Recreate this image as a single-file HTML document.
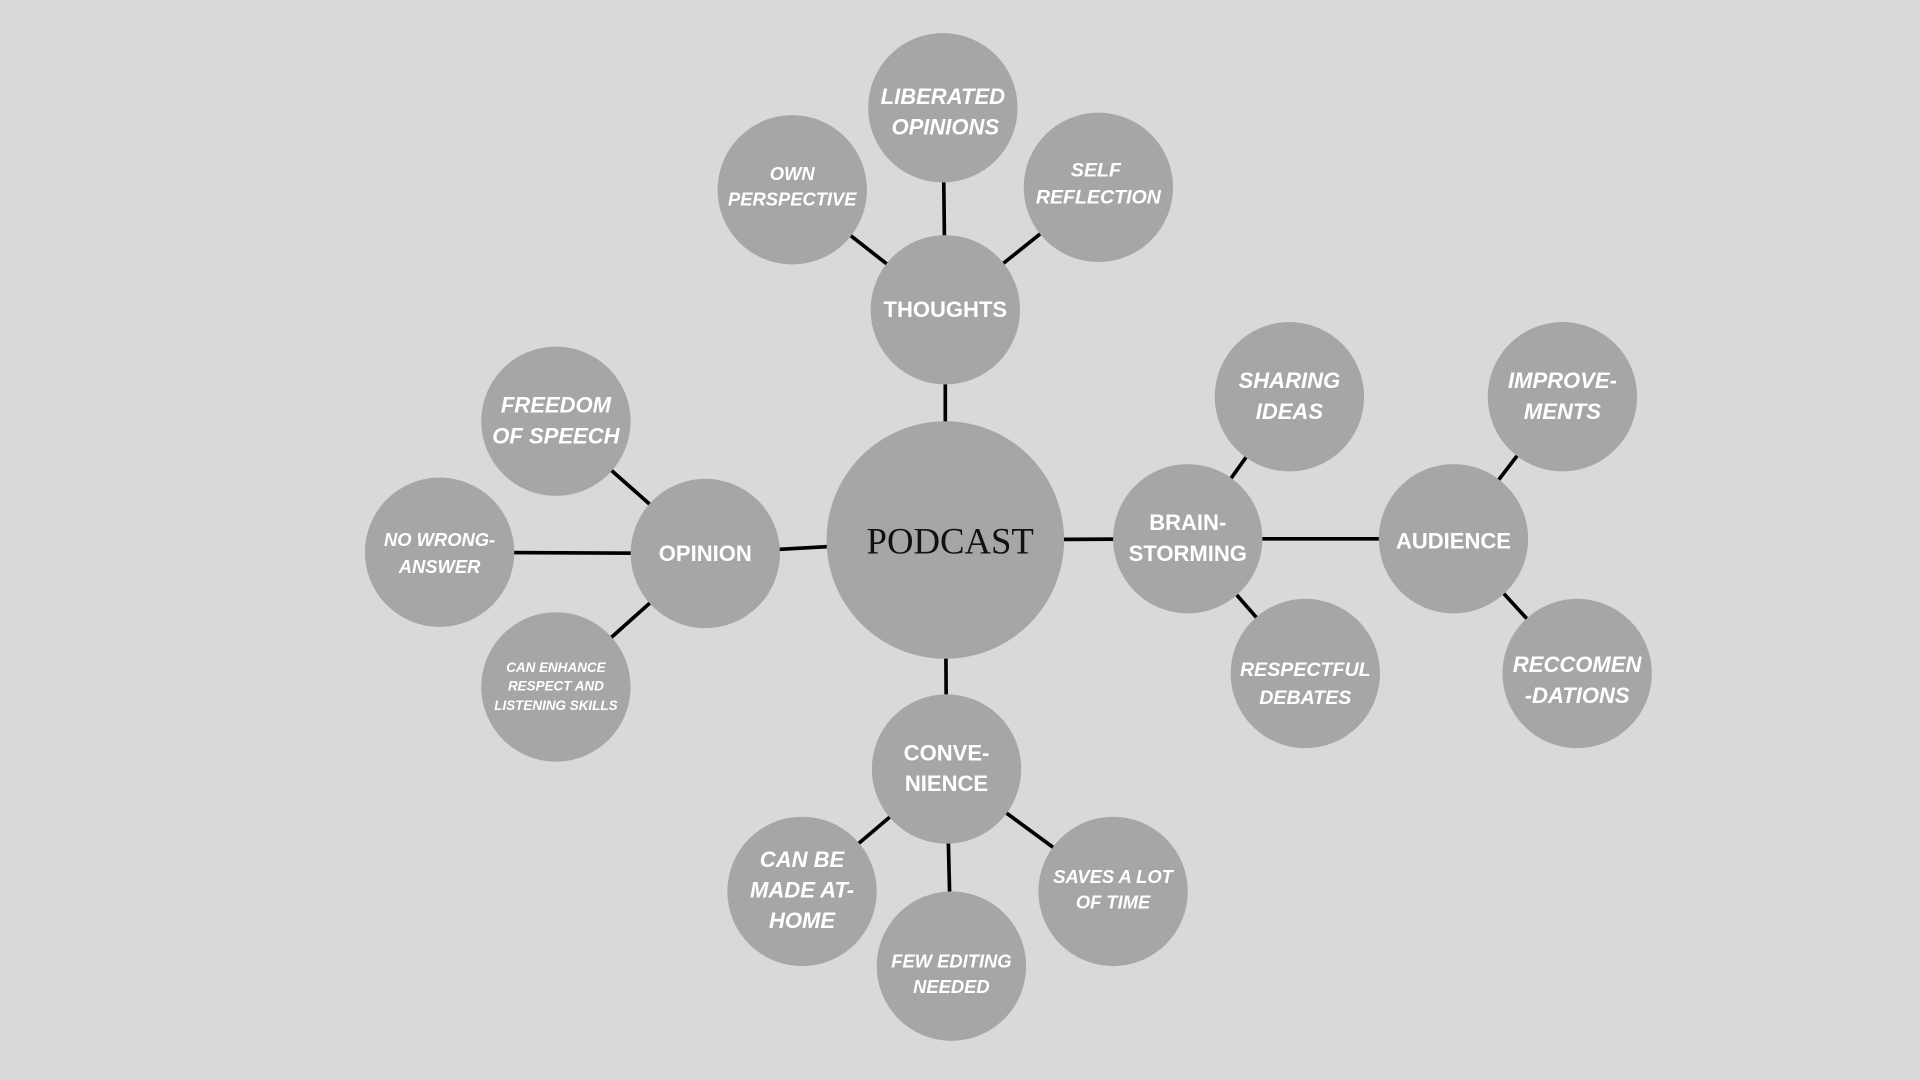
<!DOCTYPE html>
<html><head><meta charset="utf-8"><style>
html,body{margin:0;padding:0;background:#d9d9d9;}
svg{display:block;}
text{font-family:"Liberation Sans",sans-serif;font-weight:bold;fill:#fff;text-anchor:middle;}
.i{font-style:italic;}
</style></head><body>
<svg width="1920" height="1080" viewBox="0 0 1568 882" xmlns="http://www.w3.org/2000/svg">
<rect width="1568" height="882" fill="#d9d9d9"/>
<g stroke="#000" stroke-width="3">
<line x1="772" y1="441" x2="772" y2="253"/>
<line x1="772" y1="253" x2="770" y2="88"/>
<line x1="772" y1="253" x2="647" y2="155"/>
<line x1="772" y1="253" x2="897" y2="153"/>
<line x1="772" y1="441" x2="576" y2="452"/>
<line x1="576" y1="452" x2="454" y2="344"/>
<line x1="576" y1="452" x2="359" y2="451"/>
<line x1="576" y1="452" x2="454" y2="561"/>
<line x1="772" y1="441" x2="970" y2="440"/>
<line x1="970" y1="440" x2="1053" y2="324"/>
<line x1="970" y1="440" x2="1066" y2="550"/>
<line x1="970" y1="440" x2="1187" y2="440"/>
<line x1="1187" y1="440" x2="1276" y2="324"/>
<line x1="1187" y1="440" x2="1288" y2="550"/>
<line x1="772" y1="441" x2="773" y2="628"/>
<line x1="773" y1="628" x2="655" y2="728"/>
<line x1="773" y1="628" x2="777" y2="789"/>
<line x1="773" y1="628" x2="909" y2="728"/>
</g>
<g fill="#a6a6a6">
<circle cx="772" cy="441" r="97"/>
<circle cx="772" cy="253" r="61"/>
<circle cx="770" cy="88" r="61"/>
<circle cx="647" cy="155" r="61"/>
<circle cx="897" cy="153" r="61"/>
<circle cx="576" cy="452" r="61"/>
<circle cx="454" cy="344" r="61"/>
<circle cx="359" cy="451" r="61"/>
<circle cx="454" cy="561" r="61"/>
<circle cx="970" cy="440" r="61"/>
<circle cx="1053" cy="324" r="61"/>
<circle cx="1066" cy="550" r="61"/>
<circle cx="1187" cy="440" r="61"/>
<circle cx="1276" cy="324" r="61"/>
<circle cx="1288" cy="550" r="61"/>
<circle cx="773" cy="628" r="61"/>
<circle cx="655" cy="728" r="61"/>
<circle cx="777" cy="789" r="61"/>
<circle cx="909" cy="728" r="61"/>
</g>
<text x="776" y="452" style="fill:#111;font-family:'Liberation Serif',serif;font-weight:normal;font-size:30px;letter-spacing:0px">PODCAST</text>
<text x="772" y="259" font-size="18">THOUGHTS</text>
<text class="i" x="770" y="85" font-size="18">LIBERATED</text>
<text class="i" x="772" y="110" font-size="18">OPINIONS</text>
<text class="i" x="647" y="147" font-size="15">OWN</text>
<text class="i" x="647" y="168" font-size="15">PERSPECTIVE</text>
<text class="i" x="895" y="144" font-size="16">SELF</text>
<text class="i" x="897" y="166" font-size="16">REFLECTION</text>
<text x="576" y="458" font-size="18">OPINION</text>
<text class="i" x="454" y="337" font-size="18">FREEDOM</text>
<text class="i" x="454" y="362" font-size="18">OF SPEECH</text>
<text class="i" x="359" y="446" font-size="15">NO WRONG-</text>
<text class="i" x="359" y="468" font-size="15">ANSWER</text>
<text class="i" x="454" y="549" font-size="11">CAN ENHANCE</text>
<text class="i" x="454" y="564" font-size="11">RESPECT AND</text>
<text class="i" x="454" y="580" font-size="11">LISTENING SKILLS</text>
<text x="970" y="433" font-size="18">BRAIN-</text>
<text x="970" y="458" font-size="18">STORMING</text>
<text class="i" x="1053" y="317" font-size="18">SHARING</text>
<text class="i" x="1053" y="342" font-size="18">IDEAS</text>
<text class="i" x="1066" y="552" font-size="16">RESPECTFUL</text>
<text class="i" x="1066" y="575" font-size="16">DEBATES</text>
<text x="1187" y="448" font-size="18">AUDIENCE</text>
<text class="i" x="1276" y="317" font-size="18">IMPROVE-</text>
<text class="i" x="1276" y="342" font-size="18">MENTS</text>
<text class="i" x="1288" y="549" font-size="18">RECCOMEN</text>
<text class="i" x="1288" y="574" font-size="18">-DATIONS</text>
<text x="773" y="621" font-size="18">CONVE-</text>
<text x="773" y="646" font-size="18">NIENCE</text>
<text class="i" x="655" y="708" font-size="18">CAN BE</text>
<text class="i" x="655" y="733" font-size="18">MADE AT-</text>
<text class="i" x="655" y="758" font-size="18">HOME</text>
<text class="i" x="777" y="790" font-size="15">FEW EDITING</text>
<text class="i" x="777" y="811" font-size="15">NEEDED</text>
<text class="i" x="909" y="721" font-size="15">SAVES A LOT</text>
<text class="i" x="909" y="742" font-size="15">OF TIME</text>
</svg>
</body></html>
